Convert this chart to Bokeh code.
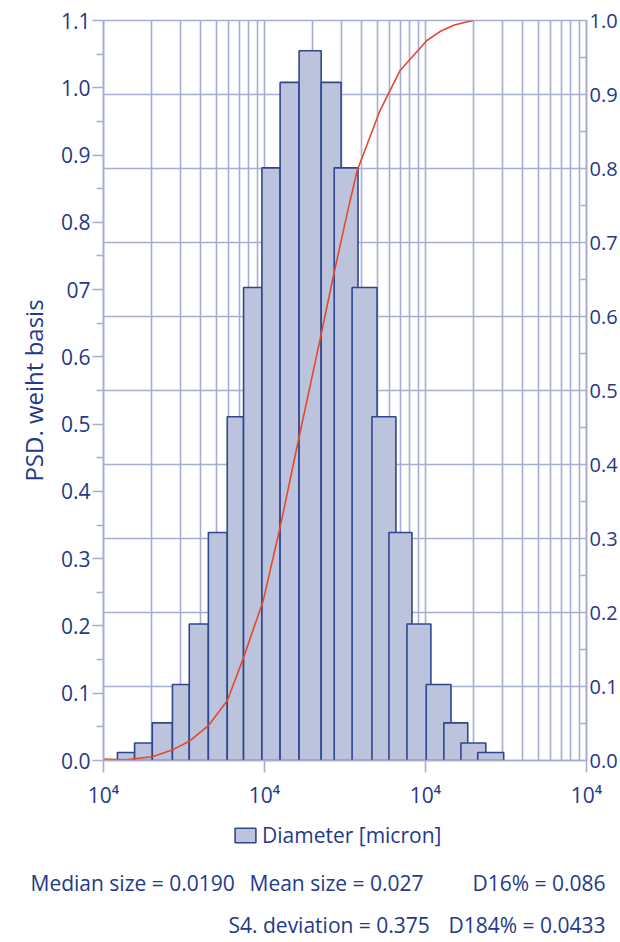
import numpy as np
from bokeh.plotting import figure
from bokeh.layouts import column
from bokeh.models import (Range1d, LinearAxis, FixedTicker, PrintfTickFormatter,
                          Grid, Legend, LegendItem, ColumnDataSource)
from bokeh.core.properties import value
from bokeh.embed import file_html
from bokeh.resources import INLINE

# ---------------- data ----------------
BIN_LEFT = [1.22, 1.56, 2.01, 2.68, 3.41, 4.48, 5.87, 7.41, 9.64, 12.5, 16.4,
            22.5, 27.1, 35.0, 46.5, 59.3, 76.7, 101, 130, 166, 211]
BIN_RIGHT = [1.56, 2.01, 2.68, 3.41, 4.48, 5.87, 7.41, 9.64, 12.5, 16.4, 22.5,
             29.9, 38.1, 50.0, 65.5, 82.4, 108, 144, 183, 237, 306]
PSD = [0.012, 0.026, 0.056, 0.113, 0.203, 0.339, 0.511, 0.703, 0.881, 1.008, 1.055,
       1.008, 0.881, 0.703, 0.511, 0.339, 0.203, 0.113, 0.056, 0.026, 0.012]

CDF_D = [1.0, 1.37, 2.01, 2.72, 3.41, 4.48, 5.88, 7.38, 9.82, 12.5, 16.0, 22.1,
         26.7, 32.6, 37.6, 52.1, 69.3, 102, 123, 151, 197]
CDF = [0.002, 0.001, 0.005, 0.015, 0.026, 0.047, 0.081, 0.138, 0.216, 0.315, 0.426,
       0.568, 0.653, 0.739, 0.797, 0.878, 0.932, 0.973, 0.985, 0.994, 1.0]

X_TICKS = [1, 10, 100, 1000]
X_MINOR = [2, 3, 4, 5, 6, 7, 8, 9, 20, 30, 40, 50, 60, 70, 80, 90,
           200, 300, 400, 500, 600, 700, 800, 900]
X_TICK_LABELS = ["10\u2074", "10\u2074", "10\u2074", "10\u2074"]

LEFT_TICKS = [0.0, 0.1, 0.2, 0.3, 0.4, 0.5, 0.6, 0.7, 0.8, 0.9, 1.0, 1.1]
LEFT_MINOR = [0.05, 0.15, 0.25, 0.35, 0.45, 0.55, 0.65, 0.75, 0.85, 0.95, 1.05]
LEFT_LABELS = ["0.0", "0.1", "0.2", "0.3", "0.4", "0.5", "0.6", "07", "0.8", "0.9", "1.0", "1.1"]

RIGHT_TICKS = [0.0, 0.1, 0.2, 0.3, 0.4, 0.5, 0.6, 0.7, 0.8, 0.9, 1.0]
RIGHT_MINOR = [0.05, 0.15, 0.25, 0.35, 0.45, 0.55, 0.65, 0.75, 0.85, 0.95]

Y_LABEL = "PSD. weiht basis"
LEGEND_LABEL = "Diameter [micron]"
STATS_LEFT = ["Median size = 0.0190", "Mean size = 0.027", "S4. deviation = 0.375"]
STATS_RIGHT = ["D16% = 0.086", "D184% = 0.0433"]

# ---------------- style ----------------
FONT = "Open Sans"
NAVY = "#24398a"
GRID = "#a5add2"
FILL = "#bcc3dc"
EDGE = "#2f468f"
RED = "#e5492b"

W = 620
H1 = 812
H2 = 128

p = figure(width=W, height=H1, x_axis_type="log", output_backend="svg",
           toolbar_location=None, x_range=Range1d(1, 1000), y_range=Range1d(0, 1.1),
           min_border_left=103, min_border_right=33, min_border_top=20,
           min_border_bottom=52)
p.extra_y_ranges = {"cdf": Range1d(0, 1.0)}
p.outline_line_color = GRID
p.outline_line_width = 1.6

# x axis
xa = p.xaxis[0]
xa.ticker = FixedTicker(ticks=X_TICKS, minor_ticks=X_MINOR)
xa.major_label_overrides = dict(zip(X_TICKS, X_TICK_LABELS))
xa.axis_line_color = GRID
xa.axis_line_width = 1.6
xa.major_tick_line_color = GRID
xa.major_tick_line_width = 1.6
xa.major_tick_out = 12
xa.major_tick_in = 0
xa.minor_tick_out = 0
xa.minor_tick_in = 0
xa.major_label_standoff = 8
xa.major_label_text_font = FONT
xa.major_label_text_font_size = "21px"
xa.major_label_text_color = NAVY

# left axis
ya = p.yaxis[0]
ya.ticker = FixedTicker(ticks=LEFT_TICKS, minor_ticks=LEFT_MINOR)
ya.formatter = PrintfTickFormatter(format="%.1f")
ya.major_label_overrides = dict(zip(LEFT_TICKS, LEFT_LABELS))
ya.axis_line_color = GRID
ya.axis_line_width = 1.6
ya.major_tick_line_color = GRID
ya.major_tick_line_width = 1.6
ya.minor_tick_line_color = GRID
ya.minor_tick_line_width = 1.6
ya.major_tick_out = 11
ya.major_tick_in = 0
ya.minor_tick_out = 7
ya.minor_tick_in = 0
ya.major_label_standoff = 2
ya.major_label_text_font = FONT
ya.major_label_text_font_size = "21px"
ya.major_label_text_color = NAVY
ya.axis_label = Y_LABEL
ya.axis_label_text_font = FONT
ya.axis_label_text_font_size = "24px"
ya.axis_label_text_font_style = "normal"
ya.axis_label_text_color = NAVY
ya.axis_label_standoff = 8

# right axis
ra = LinearAxis(y_range_name="cdf",
                ticker=FixedTicker(ticks=RIGHT_TICKS, minor_ticks=RIGHT_MINOR),
                formatter=PrintfTickFormatter(format="%.1f"))
ra.axis_line_color = GRID
ra.axis_line_width = 1.6
ra.major_tick_out = 0
ra.major_tick_in = 0
ra.minor_tick_line_color = GRID
ra.minor_tick_line_width = 1.6
ra.minor_tick_out = 0
ra.minor_tick_in = 6
ra.major_label_standoff = 3
ra.major_label_text_font = FONT
ra.major_label_text_font_size = "20px"
ra.major_label_text_color = NAVY
p.add_layout(ra, "right")

# grids
p.xgrid.ticker = FixedTicker(ticks=X_TICKS, minor_ticks=X_MINOR)
p.xgrid.grid_line_color = GRID
p.xgrid.grid_line_width = 1.6
p.xgrid.minor_grid_line_color = GRID
p.xgrid.minor_grid_line_width = 1.6
p.ygrid.visible = False
hgrid = Grid(dimension=1, y_range_name="cdf", ticker=FixedTicker(ticks=RIGHT_TICKS),
             grid_line_color=GRID, grid_line_width=1.6)
p.add_layout(hgrid)

# bars (histogram)
bars = p.quad(left=BIN_LEFT, right=BIN_RIGHT, top=PSD, bottom=0,
              fill_color=FILL, line_color=EDGE, line_width=1.6)

# cumulative curve
p.line(CDF_D, CDF, y_range_name="cdf", line_color=RED, line_width=1.6)

# ---------------- footer: legend + statistics ----------------
f = figure(width=W, height=H2, output_backend="svg", toolbar_location=None,
           x_range=Range1d(0, W), y_range=Range1d(H1 + H2, H1),
           x_axis_location=None, y_axis_location=None,
           min_border=0, min_border_left=0, min_border_right=0,
           min_border_top=0, min_border_bottom=0)
if "frame_align" in f.properties():
    f.frame_align = False
    p.frame_align = False
f.outline_line_color = None
f.xgrid.visible = False
f.ygrid.visible = False

# legend swatch renderer (no drawable geometry; only its style is used by the legend)
nan = np.array([np.nan])
swatch = f.quad(left=nan, right=nan, top=nan, bottom=nan,
                fill_color=FILL, line_color=EDGE, line_width=1.6)
legend = Legend(items=[LegendItem(label=LEGEND_LABEL, renderers=[swatch])],
                location=(232, 91), border_line_color=None, background_fill_alpha=0,
                padding=0, margin=0, spacing=0,
                glyph_width=26, glyph_height=18, label_height=18,
                label_standoff=4,
                label_text_font=FONT, label_text_font_size="21px",
                label_text_color=NAVY)
f.add_layout(legend)

left_src = ColumnDataSource(dict(x=[30, 249, 228], y=[882, 882, 924], t=STATS_LEFT))
right_src = ColumnDataSource(dict(x=[605, 605], y=[882, 924], t=STATS_RIGHT))
f.text(x="x", y="y", text="t", source=left_src, text_align="left",
       text_baseline="alphabetic", text_font=value(FONT), text_font_size="21px",
       text_color=NAVY)
f.text(x="x", y="y", text="t", source=right_src, text_align="right",
       text_baseline="alphabetic", text_font=value(FONT), text_font_size="21px",
       text_color=NAVY)

open("out.html", "w").write(file_html(column(p, f, spacing=0), INLINE))
